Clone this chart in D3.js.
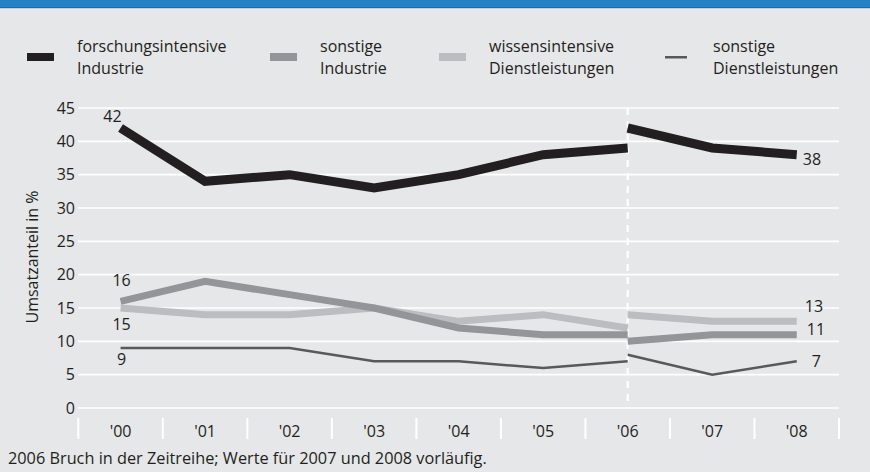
<html>
<head>
<script src="https://cdnjs.cloudflare.com/ajax/libs/d3/7.8.5/d3.min.js"></script>
<style>
  body { margin: 0; background: #e6e7e8; }
  text { font-family: "Open Sans", "Noto Sans", sans-serif; fill: #231f20; }
</style>
</head>
<body>
<script>
  // years on the x axis
  var years = ["'00", "'01", "'02", "'03", "'04", "'05", "'06", "'07", "'08"];
  var yTicks = [0, 5, 10, 15, 20, 25, 30, 35, 40, 45];

  // values before the 2006 break ('00 - '06) and after it ('06 - '08)
  var forschungBefore = [42, 34, 35, 33, 35, 38, 39];
  var forschungAfter = [42, 39, 38];
  var sonstIndBefore = [16, 19, 17, 15, 12, 11, 11];
  var sonstIndAfter = [10, 11, 11];
  var wissenBefore = [15, 14, 14, 15, 13, 14, 12];
  var wissenAfter = [14, 13, 13];
  var sonstDienstBefore = [9, 9, 9, 7, 7, 6, 7];
  var sonstDienstAfter = [8, 5, 7];

  var seriesNames = [
    ["forschungsintensive", "Industrie"],
    ["sonstige", "Industrie"],
    ["wissensintensive", "Dienstleistungen"],
    ["sonstige", "Dienstleistungen"]
  ];

  var width = 870, height = 472;
  var svg = d3.select("body").append("svg")
      .attr("width", width)
      .attr("height", height);

  svg.append("rect").attr("width", width).attr("height", height).attr("fill", "#e6e7e8");
  // blue band on top
  svg.append("rect").attr("x", 0).attr("y", 0).attr("width", width).attr("height", 7).attr("fill", "#2680c5");
  svg.append("rect").attr("x", 0).attr("y", 7).attr("width", width).attr("height", 1.2).attr("fill", "#1e6aa6");

  var x = d3.scaleBand().domain(years).range([78.3, 839]).padding(0);
  var y = d3.scaleLinear().domain([0, 45]).range([408, 108]);
  var cx = function(yr) { return x(yr) + x.bandwidth() / 2; };

  // gridlines
  svg.append("g").selectAll("line").data(yTicks).enter().append("line")
      .attr("x1", 78).attr("x2", 839)
      .attr("y1", function(d) { return y(d); })
      .attr("y2", function(d) { return y(d); })
      .attr("stroke", "#ffffff").attr("stroke-width", 1.6);

  // y tick labels
  svg.append("g").selectAll("text").data(yTicks).enter().append("text")
      .attr("x", 75)
      .attr("y", function(d) { return y(d) + 5.5; })
      .attr("text-anchor", "end")
      .attr("font-size", 16)
      .text(function(d) { return d; });

  // x axis: separators and labels
  var bounds = years.map(function(d) { return x(d); }).concat([x.range()[1]]);
  svg.append("g").selectAll("line").data(bounds).enter().append("line")
      .attr("x1", function(d) { return d; }).attr("x2", function(d) { return d; })
      .attr("y1", 418).attr("y2", 439)
      .attr("stroke", "#ffffff").attr("stroke-width", 2);

  svg.append("g").selectAll("text").data(years).enter().append("text")
      .attr("x", function(d) { return cx(d); })
      .attr("y", 437)
      .attr("text-anchor", "middle")
      .attr("font-size", 16)
      .text(function(d) { return d; });

  // axis title
  svg.append("text")
      .attr("transform", "translate(38,257) rotate(-90)")
      .attr("text-anchor", "middle")
      .attr("font-size", 16)
      .text("Umsatzanteil in %");

  // break marker at 2006
  svg.append("line")
      .attr("x1", cx("'06")).attr("x2", cx("'06"))
      .attr("y1", y(45)).attr("y2", 402)
      .attr("stroke", "#ffffff").attr("stroke-width", 2.2)
      .attr("stroke-dasharray", "7,6");

  var line = d3.line()
      .x(function(d) { return cx(d.yr); })
      .y(function(d) { return y(d.v); });

  function pts(vals, offset) {
    return vals.map(function(v, i) { return { yr: years[i + offset], v: v }; });
  }

  var series = [
    { before: forschungBefore, after: forschungAfter, color: "#231f20", w: 9 },
    { before: sonstIndBefore, after: sonstIndAfter, color: "#939598", w: 7 },
    { before: wissenBefore, after: wissenAfter, color: "#bcbdc0", w: 7 },
    { before: sonstDienstBefore, after: sonstDienstAfter, color: "#58595b", w: 2.5 }
  ];

  // draw bottom series first so the black one is on top
  series.slice().reverse().forEach(function(s) {
    [pts(s.before, 0), pts(s.after, 6)].forEach(function(p) {
      svg.append("path")
          .attr("d", line(p))
          .attr("fill", "none")
          .attr("stroke", s.color)
          .attr("stroke-width", s.w)
          .attr("stroke-linecap", "butt")
          .attr("stroke-linejoin", "miter");
    });
  });

  // value labels at the start and end
  var first = years[0], last = years[years.length - 1];
  var labels = [
    { yr: first, v: forschungBefore[0], dx: 1, dy: -6, anchor: "end" },
    { yr: first, v: sonstIndBefore[0], dx: 1, dy: -15, anchor: "middle" },
    { yr: first, v: wissenBefore[0], dx: 1, dy: 22, anchor: "middle" },
    { yr: first, v: sonstDienstBefore[0], dx: 1, dy: 17, anchor: "middle" },
    { yr: last, v: forschungAfter[2], dx: 6, dy: 10, anchor: "start" },
    { yr: last, v: wissenAfter[2], dx: 8, dy: -9, anchor: "start" },
    { yr: last, v: sonstIndAfter[2], dx: 10, dy: 0, anchor: "start" },
    { yr: last, v: sonstDienstAfter[2], dx: 15, dy: 6, anchor: "start" }
  ];
  svg.append("g").selectAll("text").data(labels).enter().append("text")
      .attr("x", function(d) { return cx(d.yr) + d.dx; })
      .attr("y", function(d) { return y(d.v) + d.dy; })
      .attr("text-anchor", function(d) { return d.anchor; })
      .attr("font-size", 16)
      .text(function(d) { return d.v; });

  // legend
  var legendX = [27, 270, 439, 665];
  var legendTextX = [77, 320, 489, 713];
  var legend = svg.append("g");
  series.forEach(function(s, i) {
    if (i < 3) {
      legend.append("rect")
          .attr("x", legendX[i]).attr("y", 53)
          .attr("width", 27).attr("height", 8)
          .attr("fill", s.color);
    } else {
      legend.append("rect")
          .attr("x", legendX[i]).attr("y", 56)
          .attr("width", 22).attr("height", 2.5)
          .attr("fill", s.color);
    }
    var t = legend.append("text")
        .attr("x", legendTextX[i]).attr("y", 52)
        .attr("font-size", 16);
    t.append("tspan").attr("x", legendTextX[i]).text(seriesNames[i][0]);
    t.append("tspan").attr("x", legendTextX[i]).attr("dy", 22).text(seriesNames[i][1]);
  });

  // footnote
  svg.append("text")
      .attr("x", 8).attr("y", 464)
      .attr("font-size", 16.3)
      .text("2006 Bruch in der Zeitreihe; Werte für 2007 und 2008 vorläufig.");
</script>
</body>
</html>
